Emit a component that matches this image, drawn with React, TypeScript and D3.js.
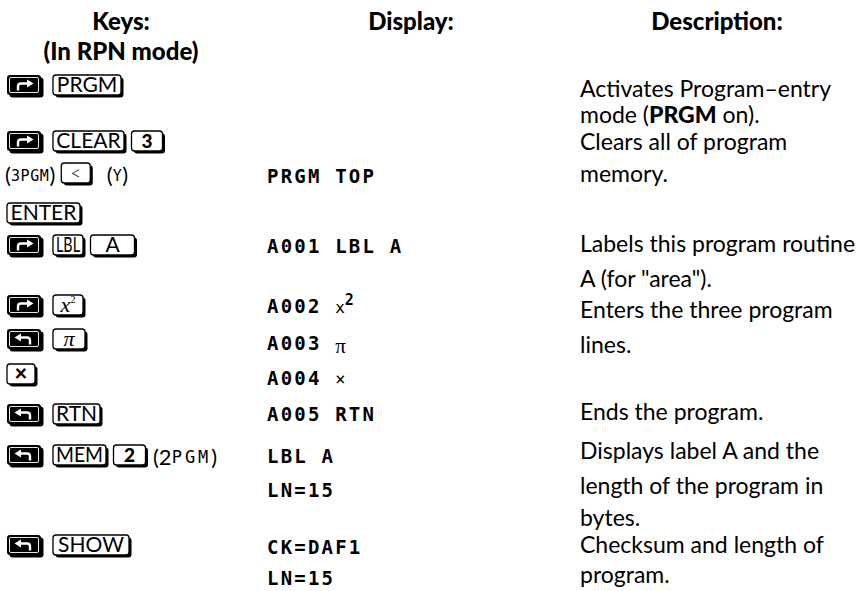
import { useEffect, useRef } from 'react'
import * as d3 from 'd3'

const WIDTH = 862
const HEIGHT = 591

const columnHeaders = ['Keys:', 'Display:', 'Description:']
const keysSubHeader = '(In RPN mode)'

// 'R' / 'L' = right / left shift key, '(..)' = literal text (|..| is display font), anything else is a key cap
const keyRows: string[][] = [
  ['R', 'PRGM'],
  ['R', 'CLEAR', '3'],
  ['(|3PGM|)', '<', '(|Y|)'],
  ['ENTER'],
  ['R', 'LBL', 'A'],
  ['R', 'x²'],
  ['L', 'π'],
  ['×'],
  ['L', 'RTN'],
  ['L', 'MEM', '2', '(2|PGM|)'],
  ['L', 'SHOW'],
]

const displayRows: string[][] = [
  [],
  [],
  ['PRGM TOP'],
  [],
  ['A001 LBL A'],
  ['A002 x^2'],
  ['A003 π'],
  ['A004 ×'],
  ['A005 RTN'],
  ['LBL A', 'LN=15'],
  ['CK=DAF1', 'LN=15'],
]

// **..** = bold
const descriptionRows: string[][] = [
  ['Activates Program–entry', 'mode (**PRGM** on).'],
  ['Clears all of program', 'memory.'],
  [],
  [],
  ['Labels this program routine', 'A (for "area").'],
  ['Enters the three program', 'lines.'],
  [],
  [],
  ['Ends the program.'],
  ['Displays label A and the', 'length of the program in', 'bytes.'],
  ['Checksum and length of', 'program.'],
]

// layout
const headerX = [121, 411, 717]
const headerBase = 30
const subHeaderBase = 60
const keyX0 = 7
const displayX = 267
const descX = 580
const keyBottom = [95, 151, 183, 223, 255, 315, 349, 384, 424, 465, 555]
const displayBase = [[], [], [183], [], [253], [313], [350], [385], [421], [463, 497], [554, 585]]
const descBase = [[97, 123], [150, 182], [], [], [252, 287], [318, 353], [], [], [420], [459, 494, 526], [553, 583]]
const keyWidth: Record<string, number> = {
  PRGM: 68, CLEAR: 71, '3': 31, '<': 29, ENTER: 73, LBL: 30, A: 44, 'x²': 30,
  'π': 32, '×': 28, RTN: 47, MEM: 53, '2': 32, SHOW: 76,
}
const literalLcd: Record<string, [number, number]> = {
  '(|3PGM|)': [15, 0.6],
  '(|Y|)': [15, 0.6],
  '(2|PGM|)': [17, 3],
}

const BODY_FONT = 'Lato, "Noto Sans", sans-serif'
const LCD_FONT = '"DejaVu Sans Mono", monospace'
const SERIF_FONT = '"Liberation Serif", "DejaVu Serif", serif'
const KEY_H = 20
const SHIFT_W = 34
const SHADOW = 2.5

type G = d3.Selection<SVGGElement, unknown, null, undefined>
type T = d3.Selection<SVGTextElement, unknown, null, undefined>

function drawShift(g: G, x: number, bottom: number, dir: string) {
  const y = bottom - KEY_H
  g.append('rect').attr('x', x + SHADOW).attr('y', y + SHADOW).attr('width', SHIFT_W).attr('height', KEY_H).attr('rx', 3).attr('fill', '#000')
  g.append('rect').attr('x', x).attr('y', y).attr('width', SHIFT_W).attr('height', KEY_H).attr('rx', 3).attr('fill', '#000')
  g.append('rect')
    .attr('x', x + 2.5).attr('y', y + 2.5).attr('width', SHIFT_W - 5).attr('height', KEY_H - 5).attr('rx', 1.5)
    .attr('fill', 'none').attr('stroke', '#fff').attr('stroke-width', 0.9)
  const top = y + 8.5
  const p = d3.path()
  if (dir === 'R') {
    const ax = x + 11
    p.moveTo(ax, y + KEY_H - 4.5)
    p.lineTo(ax, top + 3)
    p.quadraticCurveTo(ax, top, ax + 3, top)
    p.lineTo(x + 21, top)
    g.append('path').attr('d', `M${x + 20},${top - 4}L${x + 26.5},${top}L${x + 20},${top + 4}Z`).attr('fill', '#fff')
  } else {
    const ax = x + SHIFT_W - 11
    p.moveTo(ax, y + KEY_H - 4.5)
    p.lineTo(ax, top + 3)
    p.quadraticCurveTo(ax, top, ax - 3, top)
    p.lineTo(x + 13, top)
    g.append('path').attr('d', `M${x + 14},${top - 4}L${x + 7.5},${top}L${x + 14},${top + 4}Z`).attr('fill', '#fff')
  }
  g.append('path').attr('d', p.toString()).attr('fill', 'none').attr('stroke', '#fff').attr('stroke-width', 2.4)
  return SHIFT_W
}

function drawCap(g: G, x: number, bottom: number, label: string) {
  const y = bottom - KEY_H
  const w = keyWidth[label] ?? 30
  const cap = g.append('g')
  cap.append('rect').attr('x', x + SHADOW).attr('y', y + SHADOW).attr('width', w).attr('height', KEY_H).attr('rx', 3).attr('fill', '#000')
  cap.append('rect')
    .attr('x', x).attr('y', y).attr('width', w).attr('height', KEY_H).attr('rx', 3)
    .attr('fill', '#fff').attr('stroke', '#000').attr('stroke-width', 1.3)
  const t = cap.append('text')
    .attr('x', x + w / 2).attr('y', bottom - 3.2).attr('text-anchor', 'middle')
    .attr('font-family', BODY_FONT).attr('font-size', 21).attr('fill', '#000')
  if (label === 'x²') {
    t.append('tspan').attr('font-family', SERIF_FONT).attr('font-style', 'italic').attr('font-size', 22).text('x')
    t.append('tspan').attr('font-family', SERIF_FONT).attr('font-size', 10).attr('dy', -9).text('2')
  } else if (label === 'π') {
    t.attr('font-family', SERIF_FONT).attr('font-style', 'italic').attr('font-size', 22).text(label)
  } else if (label === '×') {
    t.attr('font-weight', 900).attr('font-size', 22).attr('y', bottom - 3).text(label)
  } else if (label === '3' || label === '2') {
    t.attr('font-weight', 900).attr('font-size', 19).text(label)
  } else if (label === '<') {
    t.attr('font-weight', 300).attr('font-size', 19).text(label)
  } else {
    t.text(label)
    const tw = (t.node() as SVGTextElement).getComputedTextLength()
    if (tw > w - 6) t.attr('textLength', w - 6).attr('lengthAdjust', 'spacingAndGlyphs')
  }
  return w
}

function appendLcd(t: T, s: string, size = 19, spacing = 2.2) {
  return t.append('tspan')
    .attr('font-family', LCD_FONT).attr('font-weight', 700)
    .attr('font-size', size).attr('letter-spacing', spacing).text(s)
}

function drawLiteral(g: G, x: number, base: number, item: string) {
  const [size, spacing] = literalLcd[item] ?? [15, 1]
  const t = g.append('text').attr('x', x).attr('y', base).attr('font-family', BODY_FONT).attr('font-size', 22).attr('fill', '#000')
  item.split('|').forEach((part, i) => {
    if (!part) return
    if (i % 2 === 1) appendLcd(t, part, size, spacing).attr('font-weight', 400).attr('dy', -2)
    else t.append('tspan').attr('dy', i > 0 ? 2 : 0).text(part)
  })
  return (t.node() as SVGTextElement).getComputedTextLength()
}

function drawDisplay(g: G, x: number, base: number, line: string) {
  const t = g.append('text').attr('x', x).attr('y', base).attr('fill', '#000')
  const sup = line.indexOf('^')
  if (sup >= 0) {
    appendLcd(t, line.slice(0, sup - 1))
    appendLcd(t, line[sup - 1], 16, 0).attr('font-weight', 400)
    appendLcd(t, line.slice(sup + 1), 15, 0).attr('dy', -8)
  } else if (line.endsWith('π')) {
    appendLcd(t, line.slice(0, -1))
    t.append('tspan').attr('font-family', SERIF_FONT).attr('font-size', 21).attr('dy', 3).text('π')
  } else if (line.endsWith('×')) {
    appendLcd(t, line.slice(0, -1))
    appendLcd(t, '×', 17, 0).attr('font-weight', 400)
  } else {
    appendLcd(t, line)
  }
}

function drawDescription(g: G, x: number, base: number, line: string) {
  const t = g.append('text').attr('x', x).attr('y', base).attr('font-family', BODY_FONT).attr('font-size', 23).attr('fill', '#000')
  line.split('**').forEach((part, i) => {
    if (!part) return
    const s = t.append('tspan').text(part)
    if (i % 2 === 1) s.attr('font-weight', 900)
  })
}

export default function App() {
  const svgRef = useRef<SVGSVGElement>(null)

  useEffect(() => {
    if (!svgRef.current) return
    const svg = d3.select(svgRef.current)
    svg.selectAll('*').remove()

    svg.append('rect').attr('width', WIDTH).attr('height', HEIGHT).attr('fill', '#fff')

    // column headers
    svg.append('g')
      .selectAll('text')
      .data(columnHeaders)
      .join('text')
      .attr('x', (_, i) => headerX[i])
      .attr('y', headerBase)
      .attr('text-anchor', 'middle')
      .attr('font-family', BODY_FONT)
      .attr('font-weight', 900)
      .attr('font-size', 24)
      .text((d) => d)

    svg.append('text')
      .attr('x', headerX[0])
      .attr('y', subHeaderBase)
      .attr('text-anchor', 'middle')
      .attr('font-family', BODY_FONT)
      .attr('font-weight', 900)
      .attr('font-size', 24)
      .text(keysSubHeader)

    // keystrokes
    const keysG = svg.append('g') as unknown as G
    keyRows.forEach((row, r) => {
      let x = keyX0
      const bottom = keyBottom[r]
      row.forEach((item, i) => {
        if (item === 'R' || item === 'L') {
          x += drawShift(keysG, x, bottom, item) + 12
        } else if (item.startsWith('(')) {
          if (i === 0) x = keyX0 - 2
          x += drawLiteral(keysG, x, bottom, item) + 6
        } else {
          const w = drawCap(keysG, x, bottom, item)
          // wider gap before a trailing literal on the (3PGM) row
          x += w + (i > 0 && row[0].startsWith('(') ? 14 : 5) + SHADOW
        }
      })
    })

    // display lines
    const displayG = svg.append('g') as unknown as G
    displayRows.forEach((lines, r) => {
      lines.forEach((line, j) => drawDisplay(displayG, displayX, displayBase[r][j], line))
    })

    // descriptions
    const descG = svg.append('g') as unknown as G
    descriptionRows.forEach((lines, r) => {
      lines.forEach((line, j) => drawDescription(descG, descX, descBase[r][j], line))
    })
  }, [])

  return (
    <svg
      ref={svgRef}
      width={WIDTH}
      height={HEIGHT}
      style={{ position: 'absolute', left: 0, top: 0, display: 'block' }}
    />
  )
}
